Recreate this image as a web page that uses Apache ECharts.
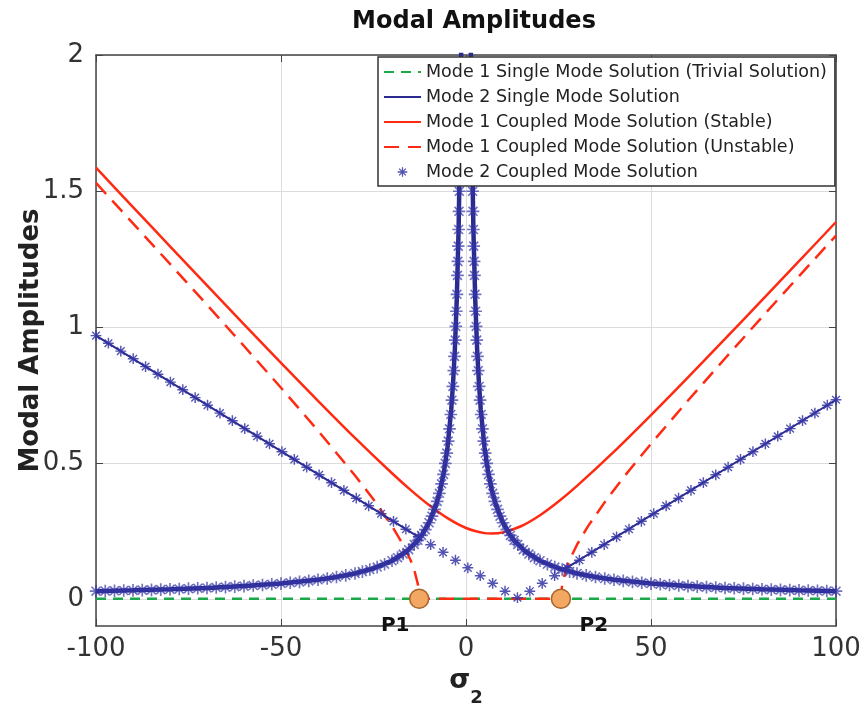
<!DOCTYPE html>
<html>
<head>
<meta charset="utf-8">
<script src="https://cdn.jsdelivr.net/npm/echarts@6/dist/echarts.min.js"></script>
<style>html,body{margin:0;padding:0;background:#fff}#c{width:865px;height:709px}</style>
</head>
<body>
<div id="c"></div>
<script>
// ---- data ----
const seriesNames = [
  'Mode 1 Single Mode Solution (Trivial Solution)',
  'Mode 2 Single Mode Solution',
  'Mode 1 Coupled Mode Solution (Stable)',
  'Mode 1 Coupled Mode Solution (Unstable)',
  'Mode 2 Coupled Mode Solution'
];
const xTicks = [-100, -50, 0, 50, 100];
const yTicks = [0, 0.5, 1, 1.5, 2];

const trivialX = [-100, 100];
const trivialY = [0, 0];

const singleX = [-100,-90,-80,-70,-60,-50,-40,-35,-30,-25,-20,-16,-13,-12,-10,-8,-7,-6,-5,-4,-3.5,-3,-2.5,-2,-1.5,-1.2,-1,-0.5,
  0,
  0.5,1,1.2,1.5,2,2.5,3,3.5,4,5,6,7,8,10,12,13,16,20,25,30,35,40,50,60,70,80,90,100];
const singleY = [0.0280,0.0311,0.0350,0.0400,0.0467,0.0560,0.0700,0.0800,0.0933,0.1120,0.1400,0.1749,0.2152,0.2331,0.2797,0.3493,0.3990,0.4651,0.5572,0.6946,0.7920,0.9206,1.0983,1.3582,1.7709,2.1538,2.5044,3.9598,
  5.6,
  3.9598,2.5044,2.1538,1.7709,1.3582,1.0983,0.9206,0.7920,0.6946,0.5572,0.4651,0.3990,0.3493,0.2797,0.2331,0.2152,0.1749,0.1400,0.1120,0.0933,0.0800,0.0700,0.0560,0.0467,0.0400,0.0350,0.0311,0.0280];

const bandX = [-100,-97.5,-95,-92.5,-90,-87.5,-85,-82.5,-80,-77.5,-75,-72.5,-70,-67.5,-65,-62.5,-60,-57.5,-55,-52.5,-50,-47.5,-45,-42.5,-40,-37.5,-35,-32.5,-30,-28,-26,-24,-22,-20,-18.5,-17,-15.5,-14,-13,-12,-11,-10,-9.2,-8.5,-7.8,-7.2,-6.6,-6.1,-5.6,-5.2,-4.8,-4.45,-4.1,-3.8,-3.55,-3.3,-3.1,-2.9,-2.75,-2.6,-2.45,-2.3,-2.2,-2.1,-2.0,-1.9,-1.8,-1.7,-1.6,
  1.6,1.7,1.8,1.9,2.0,2.1,2.2,2.3,2.45,2.6,2.75,2.9,3.1,3.3,3.55,3.8,4.1,4.45,4.8,5.2,5.6,6.1,6.6,7.2,7.8,8.5,9.2,10,11,12,13,14,15.5,17,18.5,20,22,24,26,28,30,32.5,35,37.5,40,42.5,45,47.5,50,52.5,55,57.5,60,62.5,65,67.5,70,72.5,75,77.5,80,82.5,85,87.5,90,92.5,95,97.5,100];
const bandY = [0.0280,0.0287,0.0295,0.0303,0.0311,0.0320,0.0329,0.0339,0.0350,0.0361,0.0373,0.0386,0.0400,0.0415,0.0431,0.0448,0.0467,0.0487,0.0509,0.0533,0.0560,0.0589,0.0622,0.0659,0.0700,0.0747,0.0800,0.0862,0.0933,0.1000,0.1077,0.1167,0.1273,0.1400,0.1513,0.1647,0.1806,0.1999,0.2152,0.2331,0.2543,0.2797,0.3039,0.3288,0.3582,0.3880,0.4230,0.4575,0.4980,0.5360,0.5802,0.6253,0.6779,0.7305,0.7810,0.8389,0.8917,0.9515,1.0018,1.0576,1.1198,1.1896,1.2411,1.2971,1.3582,1.4251,1.4988,1.5801,1.6703,
  1.6703,1.5801,1.4988,1.4251,1.3582,1.2971,1.2411,1.1896,1.1198,1.0576,1.0018,0.9515,0.8917,0.8389,0.7810,0.7305,0.6779,0.6253,0.5802,0.5360,0.4980,0.4575,0.4230,0.3880,0.3582,0.3288,0.3039,0.2797,0.2543,0.2331,0.2152,0.1999,0.1806,0.1647,0.1513,0.1400,0.1273,0.1167,0.1077,0.1000,0.0933,0.0862,0.0800,0.0747,0.0700,0.0659,0.0622,0.0589,0.0560,0.0533,0.0509,0.0487,0.0467,0.0448,0.0431,0.0415,0.0400,0.0386,0.0373,0.0361,0.0350,0.0339,0.0329,0.0320,0.0311,0.0303,0.0295,0.0287,0.0280];

const stableX = [-100,-90,-80,-70,-60,-50,-40,-30,-20,-15,-10,-5,0,5,7,10,15,20,25,30,40,50,60,70,80,90,100];
const stableY = [1.5855,1.4407,1.2964,1.1527,1.0097,0.8680,0.7283,0.5918,0.4617,0.4008,0.3449,0.2967,0.2605,0.2416,0.2400,0.2443,0.2678,0.3074,0.3578,0.4151,0.5414,0.6759,0.8146,0.9557,1.0982,1.2416,1.3858];

const unstableX = [-100,-90,-80,-70,-60,-50,-40,-30,-25,-20,-17,-15,-14,-13,-12.65,25.65,26,27,28,30,33,38,43,50,60,70,80,90,100];
const unstableY = [1.5296,1.3809,1.2316,1.0813,0.9298,0.7761,0.6187,0.4537,0.3652,0.2674,0.1989,0.1427,0.1068,0.0537,0,0,0.0537,0.1068,0.1427,0.1989,0.2674,0.3652,0.4537,0.5702,0.7293,0.8839,1.0360,1.1866,1.3360];

const coupledX = [-100,-96.65,-93.3,-89.95,-86.6,-83.25,-79.9,-76.55,-73.2,-69.85,-66.5,-63.15,-59.8,-56.45,-53.1,-49.75,-46.4,-43.05,-39.7,-36.35,-33,-29.65,-26.3,-22.95,-19.6,-16.25,-12.9,-9.55,-6.2,-2.85,0.5,3.85,7.2,10.55,13.9,17.25,20.6,23.95,27.3,30.65,34,37.35,40.7,44.05,47.4,50.75,54.1,57.45,60.8,64.15,67.5,70.85,74.2,77.55,80.9,84.25,87.6,90.95,94.3,97.65,100];
const coupledY = [0.968,0.940,0.911,0.883,0.854,0.826,0.797,0.769,0.740,0.712,0.683,0.655,0.626,0.598,0.570,0.541,0.513,0.484,0.456,0.427,0.399,0.370,0.342,0.313,0.285,0.256,0.228,0.199,0.171,0.142,0.114,0.085,0.057,0.028,0.004,0.028,0.057,0.085,0.114,0.142,0.171,0.199,0.228,0.256,0.285,0.313,0.342,0.370,0.399,0.427,0.456,0.484,0.513,0.541,0.570,0.598,0.626,0.655,0.683,0.712,0.732];

const coupledLineLeftX = [-100, -13];
const coupledLineLeftY = [0.968, 0.229];
const coupledLineRightX = [27, 100];
const coupledLineRightY = [0.112, 0.732];

const bifX = [-12.65, 25.65];
const bifY = [0, 0];
const bifLabels = ['P1', 'P2'];

// ---- helpers ----
const zip = (xs, ys) => xs.map((x, i) => [x, ys[i]]);
const STAR = 'path://M0,0L0.1,0L0,0.1Z M20,20L19.9,20L20,19.9Z M9.2,4H10.8V16H9.2Z M4,9.2H16V10.8H4Z M5.2,6.3L6.3,5.2L14.8,13.7L13.7,14.8Z M13.7,5.2L14.8,6.3L6.3,14.8L5.2,13.7Z';
const BLUE = '#2b2a8f';
const STARBLUE = '#3535a6';
const RED = '#ff2a12';
const GREEN = '#1aa84a';
const FONT = 'DejaVu Sans';

const chart = echarts.init(document.getElementById('c'), null, {renderer: 'canvas'});
const option = {
  animation: false,
  backgroundColor: '#fff',
  title: {
    text: 'Modal Amplitudes', left: 469, top: 5, textAlign: 'center',
    textStyle: {fontFamily: FONT, fontWeight: 'bold', fontSize: 24, color: '#111'}
  },
  legend: {
    data: seriesNames.map((n, i) => i < 4 ? {name: n, itemStyle: {opacity: 0}} : {name: n}),
    orient: 'vertical', left: 378, top: 57, z: 20,
    itemWidth: 37, itemHeight: 16, itemGap: 7, padding: [6, 8, 5, 5],
    backgroundColor: '#fff', borderColor: '#333', borderWidth: 1.5, borderRadius: 0,
    textStyle: {fontFamily: FONT, fontSize: 17.5, color: '#222', lineHeight: 16},
    selectedMode: false
  },
  grid: {left: 96, right: 29, top: 55, bottom: 83, outerBoundsMode: 'none', containLabel: false},
  xAxis: [{
    type: 'value', min: -100, max: 100, interval: 50,
    name: '{s|σ}{sub|2}', nameLocation: 'middle', nameGap: 41,
    nameTextStyle: {
      rich: {
        s: {fontFamily: FONT, fontWeight: 'bold', fontSize: 27, color: '#222', lineHeight: 40, verticalAlign: 'top'},
        sub: {fontFamily: FONT, fontWeight: 'bold', fontSize: 18, color: '#222', lineHeight: 40, verticalAlign: 'bottom'}
      }
    },
    axisLine: {show: true, onZero: false, lineStyle: {color: '#444', width: 1.5}},
    axisTick: {show: true, inside: true, length: 7, lineStyle: {color: '#444'}},
    axisLabel: {fontFamily: FONT, fontSize: 26, color: '#333', margin: 10,
      formatter: v => xTicks.includes(v) ? String(v) : ''},
    splitLine: {show: true, lineStyle: {color: '#dcdcdc', width: 1}}
  }, {
    type: 'value', min: -100, max: 100, interval: 50, position: 'top',
    axisLine: {show: true, onZero: false, lineStyle: {color: '#444', width: 1.5}},
    axisTick: {show: true, inside: true, length: 7, lineStyle: {color: '#444'}},
    axisLabel: {show: false}, splitLine: {show: false}
  }],
  yAxis: [{
    type: 'value', min: -0.1, max: 2,
    name: 'Modal Amplitudes', nameLocation: 'middle', nameGap: 52, nameMoveOverlap: false,
    nameTextStyle: {fontFamily: FONT, fontWeight: 'bold', fontSize: 26, color: '#222'},
    axisLine: {show: true, onZero: false, lineStyle: {color: '#444', width: 1.5}},
    axisTick: {show: true, inside: true, length: 7, lineStyle: {color: '#444'}, customValues: yTicks},
    axisLabel: {fontFamily: FONT, fontSize: 26, color: '#333', margin: 12, customValues: yTicks,
      formatter: v => String(v)},
    splitLine: {show: true, lineStyle: {color: '#dcdcdc', width: 1}}
  }, {
    type: 'value', min: -0.1, max: 2, position: 'right',
    axisLine: {show: true, onZero: false, lineStyle: {color: '#444', width: 1.5}},
    axisTick: {show: true, inside: true, length: 7, lineStyle: {color: '#444'}, customValues: yTicks},
    axisLabel: {show: false, customValues: yTicks}, splitLine: {show: false}
  }],
  series: [
    {
      name: seriesNames[0], type: 'line', data: zip(trivialX, trivialY), symbol: 'none',
      lineStyle: {color: GREEN, width: 2.5, type: [10, 7]}, itemStyle: {color: GREEN}, z: 2
    },
    {
      name: seriesNames[3], type: 'line', data: zip(unstableX, unstableY), symbol: 'none',
      lineStyle: {color: RED, width: 2.5, type: [15, 9]}, itemStyle: {color: RED}, z: 3
    },
    {
      name: seriesNames[2], type: 'line', data: zip(stableX, stableY), symbol: 'none', smooth: 0.3,
      lineStyle: {color: RED, width: 2.5}, itemStyle: {color: RED}, z: 3
    },
    {
      name: 'coupled-line-left', type: 'line', data: zip(coupledLineLeftX, coupledLineLeftY), symbol: 'none',
      lineStyle: {color: BLUE, width: 2}, z: 4
    },
    {
      name: 'coupled-line-right', type: 'line', data: zip(coupledLineRightX, coupledLineRightY), symbol: 'none',
      lineStyle: {color: BLUE, width: 2}, z: 4
    },
    {
      name: seriesNames[4], type: 'scatter', data: zip(coupledX, coupledY),
      symbol: STAR, symbolSize: 18, symbolKeepAspect: true,
      itemStyle: {color: STARBLUE, opacity: 0.85}, z: 5
    },
    {
      name: seriesNames[1], type: 'line', data: zip(singleX, singleY), symbol: 'none',
      lineStyle: {color: BLUE, width: 4.5}, itemStyle: {color: BLUE}, z: 5
    },
    {
      name: seriesNames[4], type: 'scatter', data: zip(bandX, bandY),
      symbol: STAR, symbolSize: 21, symbolKeepAspect: true,
      itemStyle: {color: STARBLUE, opacity: 0.7}, z: 5
    },
    {
      name: 'bifurcation', type: 'scatter', z: 6,
      data: bifX.map((x, i) => ({
        value: [x, bifY[i]], name: bifLabels[i],
        label: {offset: i === 0 ? [-24, 27] : [33, 27]}
      })),
      symbol: 'circle', symbolSize: 19,
      itemStyle: {color: '#f2a862', borderColor: '#a5652c', borderWidth: 1.5, opacity: 1},
      label: {show: true, position: 'inside', formatter: '{b}',
        fontFamily: FONT, fontWeight: 'bold', fontSize: 20, color: '#111'}
    }
  ]
};
chart.setOption(option);
</script>
</body>
</html>
